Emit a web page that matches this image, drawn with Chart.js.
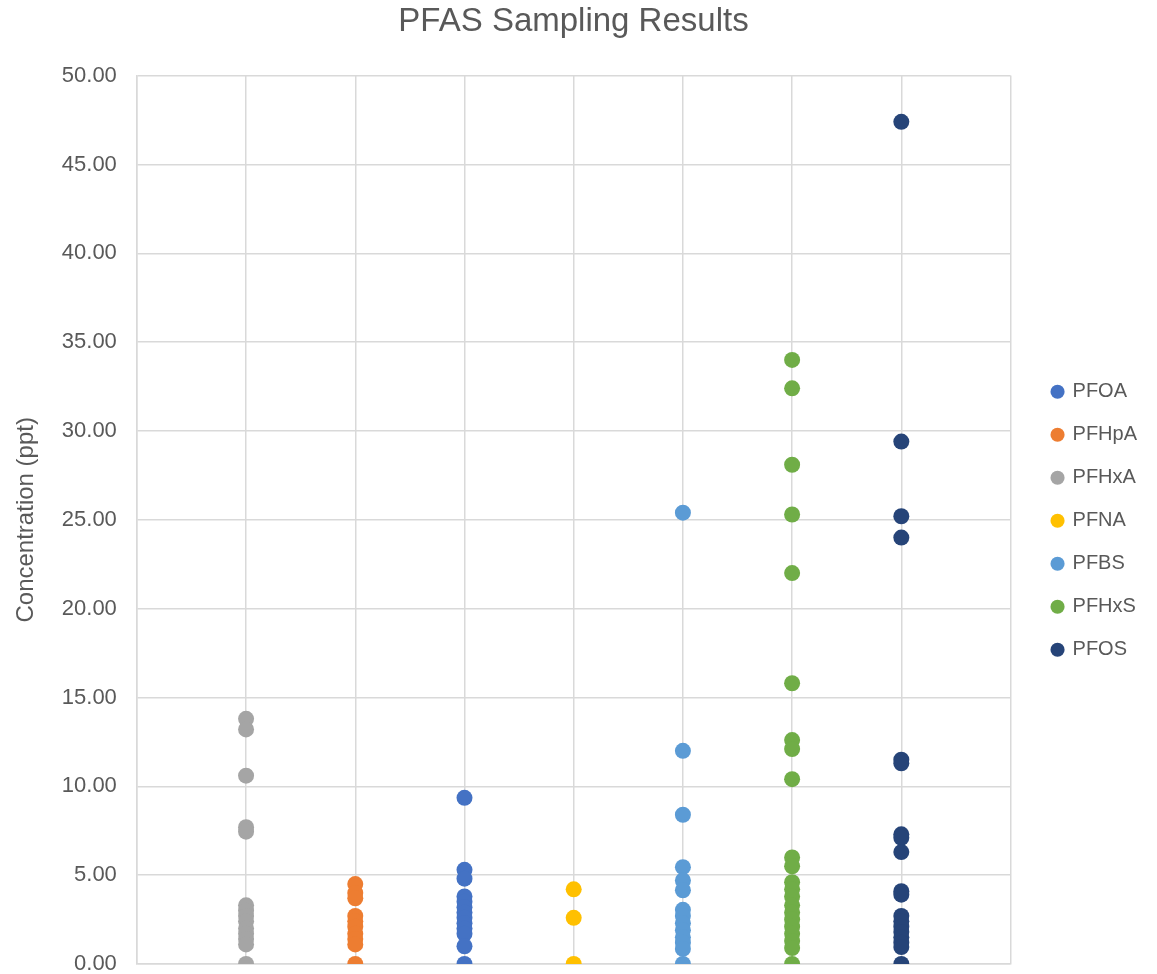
<!DOCTYPE html>
<html>
<head>
<meta charset="utf-8">
<script src="https://cdn.jsdelivr.net/npm/chart.js@4"></script>
<style>
  html, body { margin: 0; padding: 0; background: #fff; }
  #wrap { width: 1157px; height: 974px; }
</style>
</head>
<body>
<div id="wrap"><canvas id="pfasChart"></canvas></div>
<script>
// Series names, in legend order, and the column each one sits on
const seriesNames = ["PFOA", "PFHpA", "PFHxA", "PFNA", "PFBS", "PFHxS", "PFOS"];
const seriesColumn = [3, 2, 1, 4, 5, 6, 7];
const seriesColors = ["#4472C4", "#ED7D31", "#A5A5A5", "#FFC000", "#5B9BD5", "#70AD47", "#264478"];

// Concentrations (ppt)
const pfoa = [9.35, 5.3, 4.8, 3.8, 3.5, 3.2, 2.9, 2.6, 2.3, 2.0, 1.7, 1.0, 0];
const pfhpa = [4.5, 4.0, 3.7, 2.7, 2.4, 2.1, 1.7, 1.4, 1.1, 0];
const pfhxa = [13.8, 13.2, 10.6, 7.7, 7.45, 3.3, 3.0, 2.7, 2.4, 2.0, 1.7, 1.4, 1.1, 0];
const pfna = [4.2, 2.6, 0];
const pfbs = [25.4, 12.0, 8.4, 5.45, 4.7, 4.15, 3.05, 2.7, 2.3, 1.9, 1.5, 1.2, 0.85, 0];
const pfhxs = [34.0, 32.4, 28.1, 25.3, 22.0, 15.8, 12.6, 12.1, 10.4, 6.0, 5.5, 4.6, 4.2, 3.8, 3.3, 2.9, 2.5, 2.1, 1.7, 1.3, 0.9, 0];
const pfos = [47.4, 29.4, 25.2, 24.0, 11.5, 11.3, 7.3, 7.1, 6.3, 4.1, 3.9, 2.7, 2.4, 2.1, 1.8, 1.5, 1.2, 0.95, 0];

const seriesValues = [pfoa, pfhpa, pfhxa, pfna, pfbs, pfhxs, pfos];

// Axis ticks
const yMin = 0;
const yMax = 50;
const yStep = 5;
const xMin = 0;
const xMax = 8;

const textColor = "#595959";
const gridColor = "#D9D9D9";
const fontFamily = "'Liberation Sans', Arial, sans-serif";

const datasets = seriesNames.map((name, i) => ({
    label: name,
    data: seriesValues[i].map((v) => ({ x: seriesColumn[i], y: v })),
    backgroundColor: seriesColors[i],
    borderColor: seriesColors[i],
    pointRadius: 8,
    pointHoverRadius: 8,
    pointBorderWidth: 0,
    pointStyle: "circle",
}));

const ctx = document.getElementById("pfasChart").getContext("2d");

new Chart(ctx, {
    type: "scatter",
    data: { datasets: datasets },
    options: {
        responsive: true,
        maintainAspectRatio: false,
        animation: false,
        layout: {
            padding: { left: 0, right: 10, top: 0, bottom: 10 },
        },
        plugins: {
            title: {
                display: true,
                text: "PFAS Sampling Results",
                color: textColor,
                font: { family: fontFamily, size: 33, weight: "normal" },
                padding: { top: 2, bottom: 34 },
            },
            legend: {
                position: "right",
                // empty legend title only pushes the items down to mid-plot
                title: {
                    display: true,
                    text: "",
                    font: { size: 12 },
                    padding: { top: 0, bottom: 63 },
                },
                labels: {
                    usePointStyle: true,
                    pointStyle: "circle",
                    boxWidth: 10,
                    boxHeight: 10,
                    padding: 23,
                    color: textColor,
                    font: { family: fontFamily, size: 20 },
                },
            },
            tooltip: { enabled: false },
        },
        scales: {
            x: {
                type: "linear",
                min: xMin,
                max: xMax,
                ticks: { display: false, stepSize: 1 },
                grid: { color: gridColor, lineWidth: 1.5, drawTicks: false },
                border: { color: gridColor, width: 1.5 },
                afterFit: (scale) => { scale.height = 0; },
            },
            y: {
                min: yMin,
                max: yMax,
                ticks: {
                    stepSize: yStep,
                    padding: 20,
                    color: textColor,
                    font: { family: fontFamily, size: 22 },
                    callback: (value) => value.toFixed(2),
                },
                grid: { color: gridColor, lineWidth: 1.5, drawTicks: false },
                border: { color: gridColor, width: 1.5 },
                title: {
                    display: true,
                    text: "Concentration (ppt)",
                    color: textColor,
                    font: { family: fontFamily, size: 24 },
                    padding: { top: 12, bottom: 1 },
                },
                afterFit: (scale) => {
                    scale.paddingTop = 0;
                    scale.paddingBottom = 0;
                },
            },
            // empty spacer between the plot and the legend
            gap: {
                type: "linear",
                axis: "y",
                position: "right",
                ticks: { display: false },
                grid: { display: false, drawTicks: false },
                border: { display: false },
                afterFit: (scale) => {
                    scale.width = 19;
                    scale.paddingTop = 0;
                    scale.paddingBottom = 0;
                },
            },
        },
    },
});
</script>
</body>
</html>
